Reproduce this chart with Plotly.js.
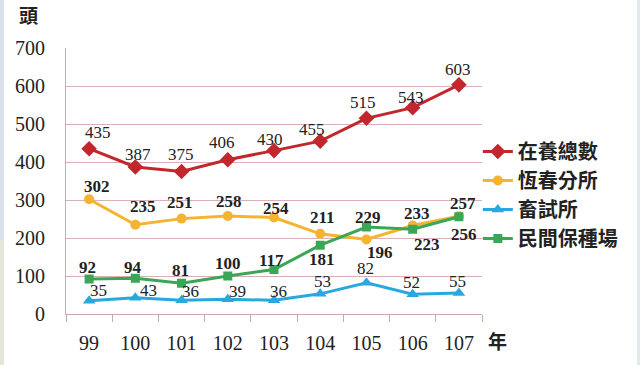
<!DOCTYPE html>
<html><head><meta charset="utf-8">
<script src="https://cdn.plot.ly/plotly-3.0.1.min.js"></script>
<style>html,body{margin:0;padding:0;background:#fff;}#c{width:640px;height:365px;}</style>
</head><body><div id="c"></div>
<script>
const years = ['99','100','101','102','103','104','105','106','107'];
const total = [435,387,375,406,430,455,515,543,603];
const hengchun = [302,235,251,258,254,211,196,233,257];
const institute = [35,43,36,39,36,53,82,52,55];
const privateFarm = [92,94,81,100,117,181,229,223,256];
const names = ['在養總數','恆春分所','畜試所','民間保種場'];

// label offsets (pixels, dx right, dy down) — style only
const offTotal = [[9,-16],[3,-12],[-1,-17],[-6,-17],[-4,-11],[-8,-12],[-3,-16],[-2,-10],[-1,-15]];
const offHeng  = [[8,-13],[8,-18],[-2,-16],[1,-14],[2,-9],[2,-16],[14,13],[4,-12],[4,-13]];
const offInst  = [[9,-10],[13,-7],[9,-9],[10,-8],[4,-9],[2,-12],[-1,-14],[-1,-12],[-1,-12]];
const offPriv  = [[-2,-12],[-2,-11],[-1,-13],[0,-13],[-3,-9],[2,14],[2,-9],[14,15],[5,18]];

const serif = 'Liberation Serif, Times New Roman, serif';
const cjk = 'Noto Sans CJK TC';
function tr(y, name, color, symbol, msize){
  return {x: years, y: y, name: name, type:'scatter', mode:'lines+markers',
    line:{color:color, width:3}, marker:{color:color, symbol:symbol, size:msize}, cliponaxis:false};
}
const data = [
  tr(total, names[0], '#c1272d', 'diamond', 12),
  tr(hengchun, names[1], '#f6b330', 'circle', 10),
  tr(institute, names[2], '#29a8e0', 'triangle-up', 11),
  tr(privateFarm, names[3], '#3aa656', 'square', 9)
];
const annotations = [];
function addLabels(vals, offs, bold){
  vals.forEach((v,i) => annotations.push({
    x: i, y: v, xref:'x', yref:'y', showarrow:false,
    text: bold ? '<b>'+v+'</b>' : String(v),
    xanchor:'center', yanchor:'middle', xshift: offs[i][0], yshift: -offs[i][1],
    font:{family:serif, size:17, color:'#222'}
  }));
}
addLabels(total, offTotal, false);
addLabels(hengchun, offHeng, true);
addLabels(institute, offInst, false);
addLabels(privateFarm, offPriv, true);
annotations.push(
  {text:'<b>頭</b>', xref:'paper', yref:'paper', x:0, y:1, xshift:-38, yshift:34, xanchor:'center', yanchor:'middle',
   showarrow:false, font:{family:cjk, size:19, color:'#222'}},
  {text:'<b>年</b>', xref:'paper', yref:'paper', x:1, y:0, xshift:15, yshift:-26, xanchor:'center', yanchor:'middle',
   showarrow:false, font:{family:cjk, size:19, color:'#222'}}
);
// photo edge strips (page decoration), in pixels converted to paper coords
const L = 66, W = 416, T = 48, H = 266;
const px = v => (v - L) / W;
const py = v => 1 - (v - T) / H;
const shapes = [
  {type:'rect', xref:'paper', yref:'paper', x0:px(637), x1:px(641), y0:py(366), y1:py(-1), line:{width:0}, fillcolor:'#e3e8ed', layer:'below'},
  {type:'rect', xref:'paper', yref:'paper', x0:px(-1), x1:px(4), y0:py(240), y1:py(-1), line:{width:0}, fillcolor:'#d9e2ea', layer:'below'},
  {type:'rect', xref:'paper', yref:'paper', x0:px(-1), x1:px(4), y0:py(366), y1:py(240), line:{width:0}, fillcolor:'#e6e6da', layer:'below'}
];

const layout = {
  width:640, height:365, margin:{l:L, r:640-L-W, t:T, b:365-T-H},
  paper_bgcolor:'#fff', plot_bgcolor:'#fff', showlegend:true,
  xaxis:{type:'category', range:[-0.5, years.length-0.5], tickson:'boundaries', ticks:'outside', ticklen:7, tickcolor:'#c9a9ad',
    showgrid:false, showline:true, linecolor:'#c9a9ad', linewidth:1, zeroline:false, tickangle:0,
    tickfont:{family:serif, size:20, color:'#222'}, ticklabelstandoff:11},
  yaxis:{range:[0,700], dtick:100, showgrid:true, gridcolor:'#d9b0b5', gridwidth:1,
    showline:true, linecolor:'#c9a9ad', zeroline:false, ticks:'',
    tickfont:{family:serif, size:20, color:'#222'}, ticklabelstandoff:16},
  legend:{x:0.99, xanchor:'left', y:0.684, yanchor:'top', tracegroupgap:0,
    font:{family:cjk, size:20, color:'#222', weight:'bold'}, itemwidth:30, bgcolor:'rgba(0,0,0,0)'},
  annotations: annotations,
  shapes: shapes
};
Plotly.newPlot('c', data, layout, {displayModeBar:false, staticPlot:true});
</script></body></html>
